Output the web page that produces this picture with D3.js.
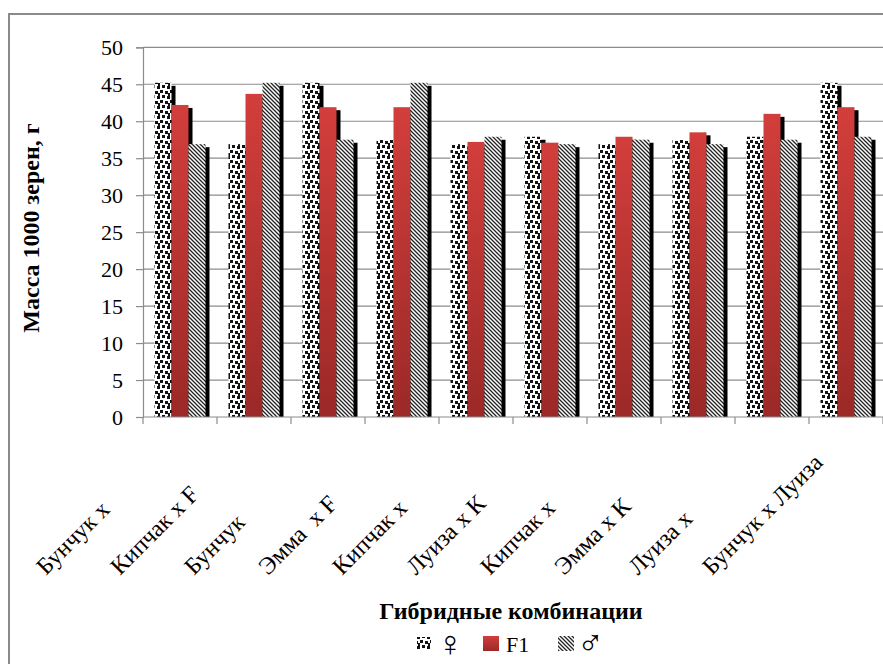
<!DOCTYPE html>
<html>
<head>
<meta charset="utf-8">
<script src="https://cdn.jsdelivr.net/npm/d3@7"></script>
<style>
  html, body { margin: 0; padding: 0; background: #fff; }
  svg { display: block; }
  text { font-family: "Liberation Serif", "Times New Roman", serif; fill: #000; }
  .sym { font-family: "DejaVu Sans", sans-serif; font-weight: 200; }
</style>
</head>
<body>
<script>
// Масса 1000 зерен у родительских форм и гибридов F1
const categories = ["Бунчук x", "Кипчак x F", "Бунчук", "Эмма  x F", "Кипчак x",
                    "Луиза x К", "Кипчак x", "Эмма x К", "Луиза x", "Бунчук x Луиза"];
const seriesNames = ["♀", "F1", "♂"];
const female = [45.2, 36.9, 45.2, 37.5, 36.9, 37.9, 36.9, 37.5, 37.9, 45.2];
const f1     = [42.2, 43.7, 41.9, 41.9, 37.2, 37.1, 37.9, 38.5, 41.0, 41.9];
const male   = [36.9, 45.2, 37.5, 45.2, 37.9, 36.9, 37.5, 36.9, 37.5, 37.9];
const yTicks = [0, 5, 10, 15, 20, 25, 30, 35, 40, 45, 50];

const W = 883, H = 664;
const M = { left: 143, right: 883, top: 47.3, bottom: 417 };

const svg = d3.select("body").append("svg").attr("width", W).attr("height", H);
const defs = svg.append("defs");

// Fill patterns: confetti for ♀, gradient red for F1, diagonal hatch for ♂
const dots = defs.append("pattern").attr("id", "pDots")
  .attr("patternUnits", "userSpaceOnUse").attr("width", 10).attr("height", 10);
dots.append("rect").attr("width", 10).attr("height", 10).attr("fill", "#fff");
[[0, 0], [5, 1], [2, 5], [7, 6], [8, 3]].forEach(([x, y]) =>
  dots.append("rect").attr("x", x).attr("y", y).attr("width", 3).attr("height", 3).attr("fill", "#111"));

const hatch = defs.append("pattern").attr("id", "pHatch")
  .attr("patternUnits", "userSpaceOnUse").attr("width", 4).attr("height", 4);
hatch.append("rect").attr("width", 4).attr("height", 4).attr("fill", "#fff");
hatch.append("path").attr("d", "M-1,-1 L5,5 M-1,3 L1,5 M3,-1 L5,1")
  .attr("stroke", "#222").attr("stroke-width", 1.3);

const grad = defs.append("linearGradient").attr("id", "gRed")
  .attr("x1", 0).attr("y1", 0).attr("x2", 0).attr("y2", 1);
grad.append("stop").attr("offset", "0%").attr("stop-color", "#d23e3b");
grad.append("stop").attr("offset", "100%").attr("stop-color", "#9b2927");

const fills = ["url(#pDots)", "url(#gRed)", "url(#pHatch)"];

// Chart frame
svg.append("rect").attr("x", 9).attr("y", 14).attr("width", 1000).attr("height", 1000)
  .attr("fill", "#fff").attr("stroke", "#8a8a8a").attr("stroke-width", 2);

// Scales
const x = d3.scaleBand().domain(d3.range(categories.length)).range([M.left, M.right]).padding(0);
const xs = d3.scaleBand().domain(d3.range(seriesNames.length)).range([0, x.bandwidth()])
  .paddingInner(0).paddingOuter(0.676);
const y = d3.scaleLinear().domain([0, 50]).range([M.bottom, M.top]);

// Gridlines
svg.append("g").selectAll("line").data(yTicks.filter(t => t > 0)).join("line")
  .attr("x1", M.left).attr("x2", W).attr("y1", d => y(d)).attr("y2", d => y(d))
  .attr("stroke", "#8c8c8c").attr("stroke-width", 1.2);

// Bars with drop shadows
const rows = [];
categories.forEach((c, i) => {
  [female[i], f1[i], male[i]].forEach((v, s) => rows.push({ i, s, v }));
});
const sdx = 4, sdy = 3;
svg.append("g").selectAll("rect").data(rows).join("rect")
  .attr("x", d => x(d.i) + xs(d.s) + sdx)
  .attr("y", d => y(d.v) + sdy)
  .attr("width", xs.bandwidth())
  .attr("height", d => y(0) - y(d.v) - sdy)
  .attr("fill", "#000");
svg.append("g").selectAll("rect").data(rows).join("rect")
  .attr("x", d => x(d.i) + xs(d.s))
  .attr("y", d => y(d.v))
  .attr("width", xs.bandwidth())
  .attr("height", d => y(0) - y(d.v))
  .attr("fill", d => fills[d.s]);

// Y axis
const yAxis = svg.append("g").attr("transform", `translate(${M.left},0)`)
  .call(d3.axisLeft(y).tickValues(yTicks).tickSize(7).tickPadding(13).tickFormat(d3.format("d")));
yAxis.attr("font-family", null);
yAxis.select(".domain").attr("stroke", "#8c8c8c").attr("stroke-width", 1.2);
yAxis.selectAll(".tick line").attr("stroke", "#8c8c8c").attr("stroke-width", 1.2);
yAxis.selectAll(".tick text").attr("font-size", 22)
  .style("font-family", '"Liberation Serif", serif').attr("fill", "#000");

// Category axis: baseline and boundary ticks
const xg = svg.append("g");
xg.append("line").attr("x1", M.left).attr("x2", W).attr("y1", y(0)).attr("y2", y(0))
  .attr("stroke", "#8c8c8c").attr("stroke-width", 1.2);
xg.selectAll("line.tk").data(d3.range(categories.length + 1)).join("line").attr("class", "tk")
  .attr("x1", i => M.left + i * x.step()).attr("x2", i => M.left + i * x.step())
  .attr("y1", y(0)).attr("y2", y(0) + 7)
  .attr("stroke", "#8c8c8c").attr("stroke-width", 1.2);

// Rotated category labels
const lblOff = 134;
xg.selectAll("text").data(categories).join("text")
  .attr("transform", (d, i) => `translate(${x(i) + x.bandwidth() / 2 - lblOff},${442 + lblOff}) rotate(-45)`)
  .attr("text-anchor", "start")
  .attr("font-size", 24)
  .style("white-space", "pre")
  .text(d => d);

// Axis titles
svg.append("text")
  .attr("transform", `translate(39,228) rotate(-90)`)
  .attr("text-anchor", "middle").attr("font-weight", "bold").attr("font-size", 24)
  .text("Масса 1000 зерен, г");
svg.append("text")
  .attr("x", (M.left + M.right) / 2 - 2).attr("y", 619)
  .attr("text-anchor", "middle").attr("font-weight", "bold").attr("font-size", 24)
  .text("Гибридные комбинации");

// Legend
const legend = svg.append("g");
const legItems = [
  { sx: 417, sy: 637, sw: 14, sh: 13, tx: 437, ty: 656, cls: "sym", fs: 36 },
  { sx: 483, sy: 636, sw: 16, sh: 15, tx: 506, ty: 652, cls: null, fs: 22 },
  { sx: 558, sy: 636, sw: 16, sh: 15, tx: 577, ty: 655, cls: "sym", fs: 36 }
];
seriesNames.forEach((n, s) => {
  const it = legItems[s];
  legend.append("rect").attr("x", it.sx).attr("y", it.sy).attr("width", it.sw).attr("height", it.sh)
    .attr("fill", fills[s]);
  legend.append("text").attr("x", it.tx).attr("y", it.ty).attr("font-size", it.fs)
    .attr("class", it.cls).text(n);
});
</script>
</body>
</html>
